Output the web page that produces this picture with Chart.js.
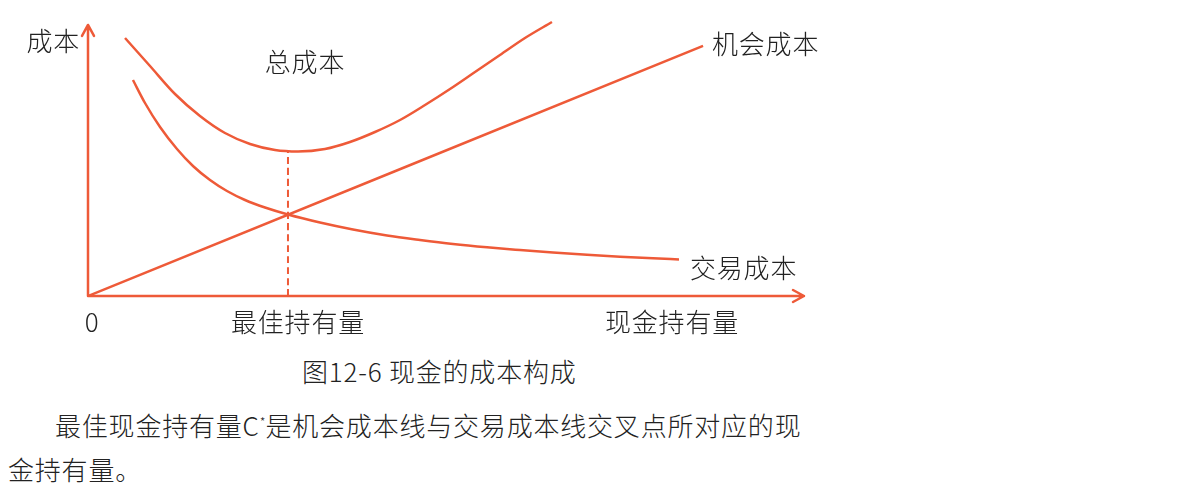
<!DOCTYPE html>
<html>
<head>
<meta charset="utf-8">
<script src="https://cdn.jsdelivr.net/npm/chart.js@4.4.1/dist/chart.umd.min.js"></script>
<style>
  html, body { margin: 0; padding: 0; background: #fff; }
  body { width: 1193px; height: 500px; position: relative; overflow: hidden;
    font-family: "Noto Sans CJK SC", "Noto Sans", sans-serif; font-weight: 300; color: #222; }
  #wrap { position: absolute; left: 0; top: 0; width: 1193px; height: 340px; }
  .caption { position: absolute; left: 302px; top: 353px; font-size: 26px; line-height: 36px; white-space: nowrap; letter-spacing: 0.8px; }
  .para { position: absolute; font-size: 26px; line-height: 36px; white-space: nowrap; letter-spacing: 0.8px; }
  .para sup { font-size: 13px; vertical-align: 9px; letter-spacing: 0; }
</style>
</head>
<body>
<div id="wrap"><canvas id="costChart" width="1193" height="340"></canvas></div>
<div class="caption">图12-6 现金的成本构成</div>
<div class="para" style="left:55px; top:404px;">最佳现金持有量C<sup>*</sup>是机会成本线与交易成本线交叉点所对应的现</div>
<div class="para" style="left:8px; top:451px;">金持有量。</div>
<script>
// values (x: cash held, y: cost, both 0-100)
const opportunityX = [0, 85.9]
const opportunityY = [0, 89.3]

const tradeX = [6.28, 7.96, 10.06, 12.43, 14.66, 17.04, 19.41, 21.93, 24.72, 27.93, 32.4,
  37.01, 41.76, 46.37, 50.98, 55.73, 60.34, 64.94, 69.69, 74.3, 78.91, 82.54]
const tradeY = [77.14, 68.93, 60.36, 52.5, 46.43, 41.43, 37.5, 34.29, 31.61, 29.11, 26.25,
  23.75, 21.61, 20.0, 18.57, 17.39, 16.43, 15.54, 14.71, 14.04, 13.46, 13.04]

const totalX = [5.17, 8.66, 12.15, 15.64, 19.13, 22.63, 26.12, 29.33, 33.1, 36.59, 40.08,
  43.58, 47.07, 50.56, 54.05, 57.54, 61.03, 64.8]
const totalY = [92.14, 82.14, 72.14, 64.29, 58.21, 54.29, 52.14, 51.61, 52.5, 55.0, 58.57,
  62.86, 68.21, 73.93, 80.0, 86.07, 92.14, 97.86]

const optimalX = 27.93
const optimalY = 51.8

const axisLabels = { y: "成本", x: "现金持有量", origin: "0", optimal: "最佳持有量" }
const seriesNames = { total: "总成本", opportunity: "机会成本", trade: "交易成本" }

const lineColor = "#EE5A38"
const textColor = "#222"

function toPoints(xs, ys) {
  return xs.map((x, i) => ({ x: x, y: ys[i] }))
}

// axes with arrow heads + text labels
const decorPlugin = {
  id: "decor",
  afterDatasetsDraw(chart) {
    const ctx = chart.ctx
    const xs = chart.scales.x
    const ys = chart.scales.y
    const ox = xs.getPixelForValue(0)
    const oy = ys.getPixelForValue(0)
    const xEnd = xs.getPixelForValue(100)
    const yEnd = ys.getPixelForValue(96.8)

    ctx.save()
    ctx.strokeStyle = lineColor
    ctx.lineWidth = 2.5
    ctx.lineCap = "round"
    ctx.lineJoin = "round"
    ctx.beginPath()
    ctx.moveTo(ox, oy)
    ctx.lineTo(xEnd, oy)
    ctx.moveTo(xEnd - 11, oy - 6)
    ctx.lineTo(xEnd, oy)
    ctx.lineTo(xEnd - 11, oy + 6)
    ctx.moveTo(ox, oy)
    ctx.lineTo(ox, yEnd)
    ctx.moveTo(ox - 6, yEnd + 11)
    ctx.lineTo(ox, yEnd)
    ctx.lineTo(ox + 6, yEnd + 11)
    ctx.stroke()

    ctx.fillStyle = textColor
    ctx.font = '300 26px "Noto Sans CJK SC", sans-serif'
    ctx.letterSpacing = "0.8px"
    ctx.textBaseline = "middle"
    ctx.textAlign = "right"
    ctx.fillText(axisLabels.y, ox - 8, 41)
    ctx.textAlign = "center"
    ctx.fillText(seriesNames.total, 305, 62)
    ctx.fillText(axisLabels.optimal, 298, 322)
    ctx.fillText(axisLabels.x, 672, 322)
    ctx.fillText(axisLabels.origin, 92, 322)
    ctx.textAlign = "left"
    ctx.fillText(seriesNames.opportunity, 712, 44)
    ctx.fillText(seriesNames.trade, 690, 268)
    ctx.restore()
  },
}

const baseLine = {
  borderColor: lineColor,
  borderWidth: 2.5,
  pointRadius: 0,
  showLine: true,
  fill: false,
  cubicInterpolationMode: "monotone",
}

new Chart(document.getElementById("costChart"), {
  type: "scatter",
  data: {
    datasets: [
      Object.assign({}, baseLine, {
        label: seriesNames.opportunity,
        data: toPoints(opportunityX, opportunityY),
      }),
      Object.assign({}, baseLine, {
        label: seriesNames.trade,
        data: toPoints(tradeX, tradeY),
      }),
      Object.assign({}, baseLine, {
        label: seriesNames.total,
        data: toPoints(totalX, totalY),
      }),
      Object.assign({}, baseLine, {
        label: axisLabels.optimal,
        data: toPoints([optimalX, optimalX], [0, optimalY]),
        borderDash: [7, 4],
        borderWidth: 2,
      }),
    ],
  },
  options: {
    responsive: false,
    animation: false,
    layout: {
      padding: { left: 88, right: 389, top: 16, bottom: 44 },
    },
    plugins: {
      legend: { display: false },
      tooltip: { enabled: false },
    },
    scales: {
      x: { type: "linear", min: 0, max: 100, display: false },
      y: { type: "linear", min: 0, max: 100, display: false },
    },
  },
  plugins: [decorPlugin],
})
</script>
</body>
</html>
